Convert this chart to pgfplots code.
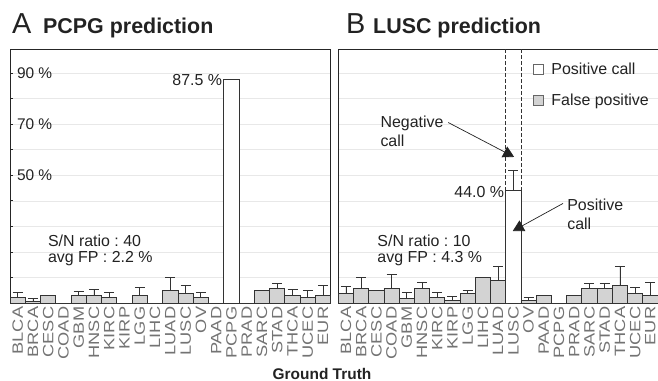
\documentclass[border=0pt]{standalone}
\usepackage{pgfplots}
\pgfplotsset{compat=1.18}
\usepackage{pgfplotstable}
\usepackage{fontspec}
\setmainfont{Liberation Sans}
\newfontfamily\tickfont[FakeStretch=1.22]{Liberation Sans}
\usetikzlibrary{arrows.meta}
\frenchspacing

\definecolor{edge}{HTML}{333333}
\definecolor{fpgray}{HTML}{D3D3D3}
\definecolor{tickgray}{HTML}{737373}
\definecolor{gridgray}{HTML}{E8E8E8}
\definecolor{txt}{HTML}{222222}

% PCPG prediction: false-positive rate and upper error
\pgfplotstableread{
x fp err
0 2.0 2.3
1 0.8 1.1
2 3.0 0
3 0 0
4 3.0 1.6
5 3.0 2.3
6 2.0 2.2
7 0 0
8 3.0 3.0
9 0 0
10 4.8 5.2
11 3.8 3.0
12 2.0 2.2
13 0 0
14 0 0
15 0 0
16 4.8 0
17 5.7 2.0
18 3.0 2.3
19 2.0 3.0
20 3.0 3.8
}\pcpgdata

% LUSC prediction
\pgfplotstableread{
x fp err
0 3.8 2.6
1 5.7 4.3
2 4.8 0
3 5.7 5.5
4 1.8 2.2
5 5.7 2.3
6 2.0 2.2
7 1.0 1.5
8 3.8 1.2
9 9.9 0
10 8.7 5.8
11 0 0
12 1.0 1.2
13 3.0 0
14 0 0
15 3.0 0
16 5.7 2.0
17 5.7 2.0
18 6.8 7.7
19 3.8 2.2
20 3.0 5.0
}\luscdata

\pgfplotsset{
  panel/.style={
    scale only axis, height=254bp,
    ymin=0, ymax=99.5, xmin=-0.5, xmax=20.5,
    axis line style={draw=black!85, line width=0.9bp},
    ymajorgrids, grid style={gridgray, line width=0.7bp},
    xtick={0,...,20},
    xticklabels={BLCA,BRCA,CESC,COAD,GBM,HNSC,KIRC,KIRP,LGG,LIHC,LUAD,LUSC,OV,PAAD,PCPG,PRAD,SARC,STAD,THCA,UCEC,EUR},
    x tick label style={rotate=90, anchor=east, inner sep=0pt, font=\tickfont\fontsize{15}{15}\selectfont, text=tickgray},
    xticklabel shift=3.5bp,
    major x tick style={draw=none},
    ytick={10,20,...,90},
    ytick pos=left, tick align=inside,
    major y tick style={draw=black!85, line width=0.8bp},
    y tick label style={anchor=west, xshift=3.5bp, font=\fontsize{15.5}{15.5}\selectfont, text=txt},
    clip=false,
  },
  errstyle/.style={
    error bars/y dir=plus, error bars/y explicit,
    error bars/error bar style={edge, line width=0.8bp},
    error bars/error mark options={rotate=90, edge, line width=0.8bp, mark size=5bp}},
  fpbar/.style={ybar, bar width=1, bar shift=0pt, fill=fpgray, draw=edge, line width=0.9bp, errstyle},
  posbar/.style={ybar, bar width=1, bar shift=0pt, fill=white, draw=edge, line width=0.9bp, errstyle},
}

\begin{document}
\begin{tikzpicture}[font=\fontsize{16}{16}\selectfont]
\useasboundingbox (0,0) rectangle (658bp,381bp);

% ---------- Panel A ----------
\begin{axis}[panel, width=320.7bp, at={(10bp,78bp)}, anchor=south west,
  major tick length=3bp,
  yticklabels={,,,,50 \%,,70 \%,,90 \%}]
\addplot[fpbar] table[x=x, y=fp, y error=err] {\pcpgdata};
\addplot[posbar] coordinates {(14,87.5)};
\node[anchor=east, inner sep=1.5bp, text=txt] at (axis cs:13.5,87.5) {87.5 \%};
\node[anchor=base west, inner sep=0pt, text=txt] at (axis cs:1.98,22.1) {S/N ratio : 40};
\node[anchor=base west, inner sep=0pt, text=txt] at (axis cs:1.98,15.8) {avg FP : 2.2 \%};
\end{axis}

% ---------- Panel B ----------
\begin{axis}[panel, width=319.7bp, at={(338.3bp,78bp)}, anchor=south west,
  major tick length=0bp, yticklabels={},
  legend style={at={(0.609,0.955)}, anchor=north west, draw=none, fill=none,
    inner sep=0pt, row sep=13bp, font=\fontsize{16}{16}\selectfont,
    nodes={inner sep=2.5bp, text=txt},
    /tikz/every odd column/.append style={column sep=5bp}},
  legend cell align=left]
\addplot[posbar, legend image code/.code={\draw[fill=white, draw=black!60, line width=0.7bp] (0bp,-5bp) rectangle (10bp,5bp);}]
  table[x=x, y=y, y error=e] {
x y e
11 44.0 8.0
};
\addlegendentry{Positive call}
\addplot[fpbar, legend image code/.code={\draw[fill=fpgray, draw=black!60, line width=0.7bp] (0bp,-5bp) rectangle (10bp,5bp);}]
  table[x=x, y=fp, y error=err] {\luscdata};
\addlegendentry{False positive}
\draw[edge, line width=0.8bp, dash pattern=on 3.5bp off 2.5bp] (axis cs:10.5,44) -- (axis cs:10.5,99.5);
\draw[edge, line width=0.8bp, dash pattern=on 3.5bp off 2.5bp] (axis cs:11.5,44) -- (axis cs:11.5,99.5);
\node[anchor=east, inner sep=1.5bp, text=txt] at (axis cs:10.5,43.5) {44.0 \%};
\node[anchor=base west, inner sep=0pt, text=txt] at (axis cs:2.06,22.1) {S/N ratio : 10};
\node[anchor=base west, inner sep=0pt, text=txt] at (axis cs:2.06,15.8) {avg FP : 4.3 \%};
\node[anchor=base west, inner sep=0pt, text=txt] at (axis cs:2.26,68.7) {Negative};
\node[anchor=base west, inner sep=0pt, text=txt] at (axis cs:2.26,61.3) {call};
\draw[-{Triangle[length=11bp,width=12bp]}, txt, line width=0.7bp] (axis cs:6.72,70.7) -- (axis cs:11.05,57.2);
\node[anchor=base west, inner sep=0pt, text=txt] at (axis cs:14.53,36.3) {Positive};
\node[anchor=base west, inner sep=0pt, text=txt] at (axis cs:14.53,28.9) {call};
\draw[-{Triangle[length=11bp,width=12bp]}, txt, line width=0.7bp] (axis cs:14.26,39.0) -- (axis cs:10.96,28.2);
\end{axis}

% ---------- Titles ----------
\node[anchor=base west, inner sep=0pt, text=txt] at (12bp,347bp) {\fontsize{29}{29}\selectfont A};
\node[anchor=base west, inner sep=0pt, text=txt] at (43bp,347bp) {\fontsize{21.5}{22}\selectfont\bfseries PCPG prediction};
\node[anchor=base west, inner sep=0pt, text=txt] at (346bp,347bp) {\fontsize{29}{29}\selectfont B};
\node[anchor=base west, inner sep=0pt, text=txt] at (373bp,347bp) {\fontsize{21.5}{22}\selectfont\bfseries LUSC prediction};
\node[anchor=base, inner sep=0pt, text=txt] at (322bp,1.8bp) {\fontsize{15.5}{16}\selectfont\bfseries Ground Truth};
\end{tikzpicture}
\end{document}
